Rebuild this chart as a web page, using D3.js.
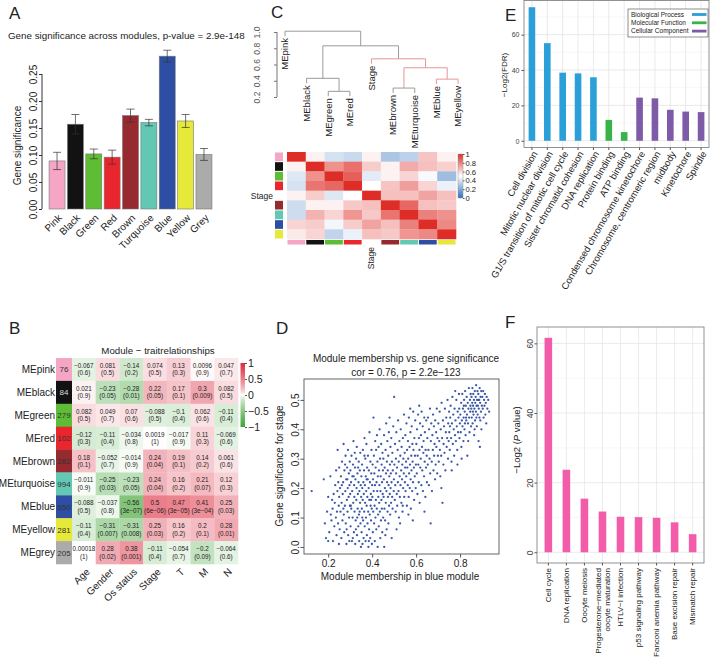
<!DOCTYPE html>
<html lang="en">
<head>
<meta charset="UTF-8">
<title>Module analysis</title>
<script src="https://d3js.org/d3.v7.min.js"></script>
<style>
  body { margin: 0; background: #fff; }
  svg { display: block; }
  svg text { font-family: "Liberation Sans", Arial, sans-serif; fill: #222; }
</style>
</head>
<body>
<svg id="fig" width="710" height="659"></svg>
<script>
// ---------- data ----------
// A: gene significance per module
const moduleNames = ["Pink", "Black", "Green", "Red", "Brown", "Turquoise", "Blue", "Yellow", "Grey"];
const moduleColors = ["#f4a6c4", "#121212", "#5ebd35", "#e9262e", "#972a2f", "#62c8b3", "#2d4ea2", "#e6e83a", "#ababab"];
const geneSig = [0.089, 0.157, 0.102, 0.096, 0.173, 0.160, 0.283, 0.163, 0.101];
const geneSigErr = [0.016, 0.018, 0.009, 0.013, 0.012, 0.006, 0.011, 0.012, 0.011];

// B: module-trait relationships
const meRows = ["MEpink", "MEblack", "MEgreen", "MEred", "MEbrown", "MEturquoise", "MEblue", "MEyellow", "MEgrey"];
const moduleSizes = [76, 84, 279, 102, 282, 994, 650, 281, 205];
const traits = ["Age", "Gender", "Os status", "Stage", "T", "M", "N"];
const traitCor = [
  [-0.067, 0.081, -0.14, 0.074, 0.13, 0.0096, 0.047],
  [0.021, -0.23, -0.28, 0.22, 0.17, 0.3, 0.082],
  [0.082, 0.049, 0.07, -0.088, -0.1, 0.062, -0.11],
  [-0.12, -0.11, -0.034, 0.0019, -0.017, 0.11, -0.069],
  [0.18, -0.052, -0.014, 0.24, 0.19, 0.14, 0.061],
  [-0.011, -0.25, -0.23, 0.24, 0.16, 0.21, 0.12],
  [-0.088, -0.037, -0.56, 0.5, 0.47, 0.41, 0.25],
  [-0.11, -0.31, -0.31, 0.25, 0.16, 0.2, 0.28],
  [0.00018, 0.28, 0.38, -0.11, -0.054, -0.2, -0.064]
];
const traitP = [
  ["0.6", "0.5", "0.2", "0.5", "0.3", "0.9", "0.7"],
  ["0.9", "0.05", "0.01", "0.05", "0.1", "0.009", "0.5"],
  ["0.5", "0.7", "0.6", "0.5", "0.4", "0.6", "0.4"],
  ["0.3", "0.4", "0.8", "1", "0.9", "0.3", "0.6"],
  ["0.1", "0.7", "0.9", "0.04", "0.1", "0.2", "0.6"],
  ["0.9", "0.03", "0.05", "0.04", "0.2", "0.07", "0.3"],
  ["0.5", "0.8", "3e−07", "6e−06", "3e−05", "3e−04", "0.03"],
  ["0.4", "0.007", "0.008", "0.03", "0.2", "0.1", "0.01"],
  ["1", "0.02", "0.001", "0.4", "0.7", "0.09", "0.6"]
];
const corLegendTicks = [1, 0.5, 0, -0.5, -1];

// C: eigengene dendrogram and adjacency heatmap
const eigenOrder = ["MEpink", "MEblack", "MEgreen", "MEred", "Stage", "MEbrown", "MEturquoise", "MEblue", "MEyellow"];
const eigenColors = ["#f4a6c4", "#121212", "#5ebd35", "#e9262e", null, "#972a2f", "#62c8b3", "#2d4ea2", "#e6e83a"];
const eigenAdj = [
  [1.00, 0.53, 0.40, 0.37, 0.53, 0.30, 0.34, 0.64, 0.53],
  [0.53, 1.00, 0.76, 0.84, 0.62, 0.53, 0.70, 0.65, 0.61],
  [0.42, 0.76, 1.00, 0.88, 0.43, 0.53, 0.60, 0.48, 0.27],
  [0.40, 0.83, 0.86, 1.00, 0.50, 0.64, 0.73, 0.60, 0.45],
  [0.53, 0.62, 0.42, 0.50, 1.00, 0.65, 0.65, 0.72, 0.65],
  [0.38, 0.53, 0.53, 0.63, 0.65, 1.00, 0.86, 0.65, 0.63],
  [0.38, 0.68, 0.60, 0.75, 0.63, 0.83, 1.00, 0.80, 0.76],
  [0.60, 0.62, 0.47, 0.62, 0.72, 0.65, 0.80, 1.00, 0.78],
  [0.55, 0.60, 0.35, 0.45, 0.65, 0.63, 0.75, 0.78, 1.00]
];
const dendroTree = {h: 1.01, children: [
  {leaf: "MEpink"},
  {h: 0.83, children: [
    {h: 0.43, children: [{leaf: "MEblack"}, {h: 0.27, children: [{leaf: "MEgreen"}, {leaf: "MEred"}]}]},
    {h: 0.67, red: true, children: [
      {leaf: "Stage"},
      {h: 0.56, red: true, children: [
        {h: 0.31, children: [{leaf: "MEbrown"}, {leaf: "MEturquoise"}]},
        {h: 0.42, red: true, children: [{leaf: "MEblue"}, {leaf: "MEyellow"}]}
      ]}
    ]}
  ]}
]};
const dendroTicks = [0.2, 0.4, 0.6, 0.8, 1.0];
const adjLegendTicks = [0, 0.2, 0.4, 0.6, 0.8, 1];

// D: module membership vs gene significance (blue module)
const mmGs = [
  [0.125,0.19],[0.18,0.23],[0.185,0.08],[0.19,0.03],[0.20,0.02],[0.195,0.12],[0.20,0.17],[0.205,0.05],
  [0.21,0.24],[0.212,0.11],[0.215,0.09],[0.22,0.13],[0.222,0.02],[0.225,0.18],[0.228,0.07],[0.23,0.15],[0.232,0.21],[0.235,0.10],[0.236,0.26],[0.238,0.04],[0.24,0.12],[0.242,0.19],[0.243,0.33],[0.245,0.08],[0.246,0.22],[0.248,0.14],[0.249,0.01],[0.25,0.17],[0.25,0.27],[0.218,0.16],
  [0.252,0.06],[0.254,0.20],[0.256,0.12],[0.258,0.24],[0.26,0.03],[0.261,0.15],[0.263,0.29],[0.265,0.09],[0.266,0.18],[0.268,0.22],[0.27,0.35],[0.271,0.11],[0.273,0.05],[0.274,0.26],[0.276,0.14],[0.278,0.19],[0.279,0.31],[0.28,0.08],[0.282,0.23],[0.283,0.01],[0.285,0.16],[0.286,0.27],[0.288,0.12],[0.289,0.20],[0.29,0.33],[0.291,0.04],[0.293,0.17],[0.294,0.25],[0.295,0.10],[0.297,0.21],[0.298,0.29],[0.299,0.14],[0.262,0.21],[0.277,0.28],[0.284,0.06],[0.296,0.02],[0.287,0.23],[0.269,0.13],
  [0.30,0.18],[0.301,0.26],[0.302,0.07],[0.304,0.22],[0.305,0.13],[0.306,0.31],[0.308,0.02],[0.309,0.19],[0.31,0.24],[0.311,0.10],[0.313,0.28],[0.314,0.15],[0.315,0.36],[0.317,0.05],[0.318,0.21],[0.319,0.17],[0.32,0.12],[0.322,0.27],[0.323,0.01],[0.324,0.23],[0.325,0.09],[0.327,0.30],[0.328,0.16],[0.329,0.20],[0.33,0.34],[0.331,0.04],[0.333,0.25],[0.334,0.13],[0.335,0.18],[0.337,0.07],[0.338,0.22],[0.339,0.29],[0.34,0.11],[0.341,0.02],[0.342,0.19],[0.344,0.26],[0.345,0.15],[0.346,0.32],[0.347,0.08],[0.348,0.21],[0.349,0.00],[0.35,0.17],[0.303,0.14],[0.312,0.03],[0.321,0.32],[0.326,0.06],[0.336,0.27],[0.343,0.12],[0.316,0.24],[0.332,0.10],
  [0.351,0.24],[0.352,0.05],[0.353,0.13],[0.354,0.28],[0.355,0.20],[0.356,0.01],[0.357,0.16],[0.358,0.33],[0.359,0.09],[0.36,0.22],[0.361,0.03],[0.362,0.18],[0.363,0.26],[0.364,0.12],[0.365,0.37],[0.366,0.07],[0.367,0.21],[0.368,0.15],[0.369,0.30],[0.37,0.02],[0.371,0.24],[0.372,0.10],[0.373,0.19],[0.374,0.35],[0.375,0.14],[0.376,0.04],[0.377,0.27],[0.378,0.17],[0.379,0.08],[0.38,0.23],[0.381,0.31],[0.382,0.12],[0.383,0.00],[0.384,0.20],[0.385,0.26],[0.386,0.06],[0.387,0.16],[0.388,0.39],[0.389,0.11],[0.39,0.22],[0.391,0.03],[0.392,0.29],[0.393,0.14],[0.394,0.18],[0.395,0.09],[0.396,0.25],[0.397,0.33],[0.398,0.13],[0.399,0.01],[0.40,0.21],[0.355,0.10],[0.365,0.31],[0.375,0.23],[0.385,0.02],[0.395,0.16],
  [0.401,0.17],[0.402,0.28],[0.403,0.05],[0.404,0.23],[0.405,0.12],[0.406,0.44],[0.407,0.19],[0.408,0.31],[0.409,0.08],[0.41,0.25],[0.411,0.14],[0.412,0.02],[0.413,0.21],[0.414,0.36],[0.415,0.10],[0.416,0.27],[0.417,0.16],[0.418,0.33],[0.419,0.06],[0.42,0.22],[0.421,0.13],[0.422,0.38],[0.423,0.19],[0.424,0.29],[0.425,0.00],[0.426,0.24],[0.427,0.11],[0.428,0.17],[0.429,0.34],[0.43,0.07],[0.431,0.26],[0.432,0.15],[0.433,0.21],[0.434,0.40],[0.435,0.12],[0.436,0.30],[0.437,0.03],[0.438,0.19],[0.439,0.24],[0.44,0.09],[0.441,0.35],[0.442,0.16],[0.443,0.28],[0.444,0.13],[0.445,0.22],[0.446,0.05],[0.447,0.32],[0.448,0.18],[0.449,0.26],[0.45,0.10],[0.455,0.00],[0.46,0.04],
  [0.451,0.30],[0.452,0.17],[0.453,0.23],[0.454,0.38],[0.456,0.13],[0.457,0.27],[0.458,0.20],[0.459,0.09],[0.461,0.33],[0.462,0.15],[0.463,0.25],[0.464,0.42],[0.465,0.19],[0.466,0.06],[0.467,0.29],[0.468,0.22],[0.469,0.36],[0.47,0.12],[0.471,0.26],[0.472,0.17],[0.473,0.31],[0.474,0.08],[0.475,0.21],[0.476,0.39],[0.477,0.14],[0.478,0.24],[0.479,0.44],[0.48,0.18],[0.481,0.28],[0.482,0.11],[0.483,0.34],[0.484,0.20],[0.485,0.25],[0.486,0.15],[0.487,0.37],[0.488,0.22],[0.489,0.03],[0.49,0.29],[0.491,0.17],[0.492,0.32],[0.493,0.13],[0.494,0.26],[0.496,0.41],[0.498,0.19],[0.499,0.23],
  [0.50,0.51],[0.501,0.28],[0.503,0.16],[0.504,0.35],[0.505,0.21],[0.507,0.12],[0.508,0.30],[0.509,0.25],[0.51,0.39],[0.512,0.18],[0.513,0.27],[0.514,0.14],[0.516,0.33],[0.517,0.22],[0.518,0.43],[0.52,0.19],[0.521,0.29],[0.522,0.10],[0.524,0.36],[0.525,0.24],[0.526,0.17],[0.528,0.31],[0.529,0.21],[0.53,0.40],[0.532,0.26],[0.533,0.15],[0.534,0.34],[0.536,0.23],[0.537,0.28],[0.538,0.12],[0.54,0.37],[0.541,0.20],[0.542,0.30],[0.544,0.25],[0.545,0.45],[0.546,0.17],[0.548,0.32],[0.549,0.22],[0.55,0.27],[0.527,0.08],[0.511,0.06],[0.539,0.14],
  [0.551,0.38],[0.552,0.19],[0.554,0.29],[0.555,0.24],[0.556,0.42],[0.558,0.14],[0.559,0.33],[0.56,0.27],[0.562,0.21],[0.563,0.36],[0.564,0.30],[0.566,0.17],[0.567,0.44],[0.568,0.25],[0.57,0.34],[0.571,0.20],[0.572,0.28],[0.574,0.39],[0.575,0.23],[0.576,0.13],[0.578,0.31],[0.579,0.26],[0.58,0.41],[0.582,0.19],[0.583,0.35],[0.584,0.29],[0.586,0.22],[0.587,0.46],[0.588,0.33],[0.59,0.27],[0.591,0.16],[0.592,0.37],[0.594,0.24],[0.595,0.31],[0.596,0.43],[0.598,0.20],[0.599,0.28],[0.565,0.11],[0.585,0.09],[0.573,0.47],
  [0.601,0.35],[0.603,0.25],[0.604,0.40],[0.606,0.18],[0.607,0.31],[0.609,0.45],[0.61,0.28],[0.612,0.22],[0.613,0.37],[0.615,0.33],[0.616,0.15],[0.618,0.42],[0.619,0.27],[0.621,0.30],[0.622,0.38],[0.624,0.21],[0.625,0.46],[0.627,0.34],[0.628,0.26],[0.63,0.41],[0.631,0.19],[0.633,0.32],[0.634,0.36],[0.636,0.24],[0.637,0.44],[0.639,0.29],[0.64,0.39],[0.642,0.17],[0.643,0.33],[0.645,0.27],[0.646,0.43],[0.648,0.31],[0.649,0.22],[0.614,0.48],[0.638,0.12],
  [0.651,0.37],[0.653,0.28],[0.654,0.44],[0.656,0.33],[0.658,0.21],[0.659,0.40],[0.661,0.30],[0.663,0.47],[0.664,0.25],[0.666,0.08],[0.667,0.36],[0.669,0.42],[0.671,0.29],[0.672,0.19],[0.674,0.38],[0.676,0.33],[0.677,0.45],[0.679,0.26],[0.681,0.41],[0.682,0.31],[0.684,0.35],[0.686,0.23],[0.687,0.43],[0.689,0.28],[0.691,0.39],[0.692,0.34],[0.694,0.47],[0.696,0.25],[0.697,0.37],[0.699,0.31],
  [0.701,0.42],[0.703,0.29],[0.705,0.36],[0.707,0.46],[0.708,0.33],[0.71,0.24],[0.712,0.40],[0.714,0.31],[0.716,0.49],[0.718,0.37],[0.72,0.15],[0.722,0.43],[0.724,0.28],[0.725,0.35],[0.727,0.41],[0.729,0.32],[0.731,0.47],[0.733,0.26],[0.735,0.39],[0.737,0.44],[0.739,0.34],[0.741,0.37],[0.743,0.50],[0.745,0.30],[0.746,0.42],[0.748,0.36],[0.75,0.46],[0.715,0.20],
  [0.751,0.39],[0.753,0.33],[0.755,0.44],[0.757,0.48],[0.759,0.37],[0.761,0.29],[0.763,0.42],[0.765,0.51],[0.767,0.35],[0.769,0.45],[0.771,0.40],[0.773,0.31],[0.775,0.47],[0.777,0.38],[0.779,0.43],[0.781,0.36],[0.783,0.50],[0.785,0.41],[0.787,0.33],[0.789,0.46],[0.791,0.39],[0.793,0.44],[0.795,0.52],[0.797,0.37],[0.799,0.42],[0.762,0.26],[0.778,0.53],[0.788,0.28],[0.754,0.41],[0.796,0.47],
  [0.801,0.45],[0.803,0.39],[0.805,0.49],[0.806,0.34],[0.808,0.43],[0.81,0.52],[0.811,0.41],[0.813,0.47],[0.815,0.36],[0.816,0.44],[0.818,0.50],[0.82,0.40],[0.821,0.46],[0.823,0.53],[0.825,0.38],[0.826,0.48],[0.828,0.43],[0.83,0.51],[0.831,0.45],[0.833,0.31],[0.835,0.49],[0.836,0.42],[0.838,0.47],[0.84,0.54],[0.841,0.44],[0.843,0.39],[0.845,0.50],[0.846,0.46],[0.848,0.52],[0.85,0.41],[0.807,0.30],[0.817,0.48],[0.827,0.44],[0.837,0.36],[0.847,0.48],[0.822,0.42],
  [0.851,0.47],[0.852,0.51],[0.853,0.44],[0.855,0.49],[0.856,0.54],[0.857,0.42],[0.859,0.48],[0.86,0.52],[0.861,0.45],[0.863,0.50],[0.864,0.38],[0.865,0.47],[0.867,0.53],[0.868,0.43],[0.869,0.49],[0.871,0.51],[0.872,0.46],[0.873,0.55],[0.875,0.48],[0.876,0.41],[0.877,0.50],[0.879,0.53],[0.88,0.45],[0.881,0.48],[0.883,0.52],[0.884,0.36],[0.885,0.47],[0.887,0.50],[0.888,0.44],[0.889,0.54],[0.891,0.49],[0.892,0.43],[0.893,0.51],[0.895,0.46],[0.896,0.53],[0.897,0.40],[0.899,0.48],[0.858,0.46],[0.866,0.40],[0.874,0.44],[0.882,0.50],[0.89,0.34],
  [0.901,0.51],[0.903,0.47],[0.905,0.53],[0.907,0.44],[0.909,0.50],[0.911,0.48],[0.913,0.52],[0.915,0.45],[0.917,0.49],[0.919,0.42],[0.921,0.51],[0.924,0.47],[0.928,0.50],[0.932,0.46]
];
const mmTicks = [0.2, 0.4, 0.6, 0.8];
const gsTicks = [0.0, 0.1, 0.2, 0.3, 0.4, 0.5];

// E: GO enrichment
const goTerms = ["Cell division", "Mitotic nuclear division", "G1/S transition of mitotic cell cycle",
  "Sister chromatid cohesion", "DNA replication", "Protein binding", "ATP binding",
  "Condensed chromosome kinetochore", "Chromosome, centromeric region", "midbody", "Kinetochore", "Spindle"];
const goValues = [75.5, 55.2, 38.5, 38.1, 35.9, 11.8, 4.9, 24.4, 24.0, 17.5, 16.5, 16.2];
const goCategory = ["BP", "BP", "BP", "BP", "BP", "MF", "MF", "CC", "CC", "CC", "CC", "CC"];
const goCatNames = ["Biological Process", "Molecular Function", "Cellular Component"];
const goCatColors = {BP: "#2b9fd8", MF: "#37b34a", CC: "#7d5ba6"};

// F: KEGG pathways
const keggTerms = ["Cell cycle", "DNA replication", "Oocyte meiosis", "Progesterone−mediated\noocyte maturation",
  "HTLV−I infection", "p53 signaling pathway", "Fanconi anemia pathway", "Base excision repair", "Mismatch repair"];
const keggValues = [61.6, 23.7, 15.4, 11.7, 10.2, 10.1, 9.9, 8.6, 5.2];

// ---------- drawing ----------
const svg = d3.select("#fig");
svg.append("rect").attr("width", 710).attr("height", 659).attr("fill", "#fff");

function letter(t, x, y) {
  svg.append("text").attr("x", x).attr("y", y).attr("font-size", 17).text(t);
}
const minus = s => String(s).replace("-", "−");

// rotated (R style) tick labels on a left axis
function rotateLeftLabels(g, off) {
  g.selectAll(".tick text")
    .attr("x", 0).attr("y", -off).attr("dy", 0)
    .attr("text-anchor", "middle")
    .attr("transform", "rotate(-90)");
}

// ===== Panel A =====
letter("A", 9, 19);
svg.append("text").attr("x", 8).attr("y", 39).attr("font-size", 9.8)
  .text("Gene significance across modules, p-value = 2.9e-148");

const xA = d3.scaleBand().domain(moduleNames).range([48.5, 212.5]).paddingInner(0.13).paddingOuter(0.03);
const yA = d3.scaleLinear().domain([0, 0.25]).range([209, 74]);
const gA = svg.append("g");

gA.selectAll("rect.bar").data(moduleNames).join("rect")
  .attr("class", "bar")
  .attr("x", d => xA(d)).attr("width", xA.bandwidth())
  .attr("y", (d, i) => yA(geneSig[i]))
  .attr("height", (d, i) => yA(0) - yA(geneSig[i]))
  .attr("fill", (d, i) => moduleColors[i])
  .attr("stroke", "#777").attr("stroke-width", 0.6);

// error bars
moduleNames.forEach((d, i) => {
  const cx = xA(d) + xA.bandwidth() / 2;
  const lo = yA(geneSig[i] - geneSigErr[i]), hi = yA(geneSig[i] + geneSigErr[i]);
  const eb = gA.append("g").attr("stroke", "#333").attr("stroke-width", 0.7);
  eb.append("line").attr("x1", cx).attr("x2", cx).attr("y1", lo).attr("y2", hi);
  eb.append("line").attr("x1", cx - 4).attr("x2", cx + 4).attr("y1", lo).attr("y2", lo);
  eb.append("line").attr("x1", cx - 4).attr("x2", cx + 4).attr("y1", hi).attr("y2", hi);
});

const axA = gA.append("g").attr("transform", "translate(42,0)")
  .call(d3.axisLeft(yA).tickValues([0, 0.05, 0.1, 0.15, 0.2, 0.25]).tickFormat(d3.format(".2f")).tickSize(3));
axA.select(".domain").remove();
axA.attr("font-size", 10);
axA.selectAll(".tick line").attr("stroke", "#333");
rotateLeftLabels(axA, 5);
axA.append("line").attr("y1", yA(0)).attr("y2", yA(0.25)).attr("stroke", "#333");

gA.append("text").attr("transform", `translate(21,${(yA(0) + yA(0.25)) / 2 + 4}) rotate(-90)`)
  .attr("text-anchor", "middle").attr("font-size", 10).text("Gene significance");

gA.selectAll("text.xl").data(moduleNames).join("text")
  .attr("class", "xl").attr("font-size", 10).attr("text-anchor", "end")
  .attr("transform", d => `translate(${xA(d) + xA.bandwidth() / 2 + 3},${216}) rotate(-45)`)
  .attr("dy", "0.35em").text(d => d);

// ===== Panel B =====
letter("B", 9, 334);
const xB = d3.scaleBand().domain(traits).range([72, 238]);
const yB = d3.scaleBand().domain(meRows).range([358, 564]);
const corBase = d3.scaleLinear().domain([-1, 0, 1]).range(["#3fa535", "#ffffff", "#dc2b3e"]);
const corColor = v => corBase(Math.sign(v) * Math.pow(Math.abs(v), 0.72));
const gB = svg.append("g");

gB.append("text").attr("x", 158).attr("y", 354).attr("text-anchor", "middle").attr("font-size", 9.7)
  .text("Module − traitrelationships");

const cellsB = [];
traitCor.forEach((row, i) => row.forEach((v, j) => cellsB.push({r: meRows[i], c: traits[j], v: v, p: traitP[i][j]})));

gB.selectAll("rect.cell").data(cellsB).join("rect")
  .attr("class", "cell")
  .attr("x", d => xB(d.c)).attr("y", d => yB(d.r))
  .attr("width", xB.bandwidth() + 0.3).attr("height", yB.bandwidth() + 0.3)
  .attr("fill", d => corColor(d.v));

gB.selectAll("text.cv").data(cellsB).join("text")
  .attr("class", "cv").attr("font-size", 6.3).attr("text-anchor", "middle").attr("fill", "#333")
  .attr("x", d => xB(d.c) + xB.bandwidth() / 2)
  .attr("y", d => yB(d.r) + yB.bandwidth() / 2 - 1.5)
  .text(d => minus(d.v));
gB.selectAll("text.cp").data(cellsB).join("text")
  .attr("class", "cp").attr("font-size", 6.3).attr("text-anchor", "middle").attr("fill", "#333")
  .attr("x", d => xB(d.c) + xB.bandwidth() / 2)
  .attr("y", d => yB(d.r) + yB.bandwidth() / 2 + 6)
  .text(d => "(" + d.p + ")");

// module colour column
gB.selectAll("rect.mc").data(meRows).join("rect")
  .attr("class", "mc")
  .attr("x", 56).attr("width", 16)
  .attr("y", d => yB(d)).attr("height", yB.bandwidth() + 0.3)
  .attr("fill", (d, i) => moduleColors[i]);
gB.selectAll("text.ms").data(meRows).join("text")
  .attr("class", "ms").attr("font-size", 8).attr("text-anchor", "middle")
  .attr("x", 64).attr("y", d => yB(d) + yB.bandwidth() / 2 + 3)
  .style("fill", (d, i) => i === 1 ? "#ddd" : "#333")
  .text((d, i) => moduleSizes[i]);
gB.selectAll("text.rl").data(meRows).join("text")
  .attr("class", "rl").attr("font-size", 10).attr("text-anchor", "end")
  .attr("x", 55).attr("y", d => yB(d) + yB.bandwidth() / 2 + 3.5)
  .text(d => d);
gB.selectAll("text.tl").data(traits).join("text")
  .attr("class", "tl").attr("font-size", 10).attr("text-anchor", "end")
  .attr("transform", d => `translate(${xB(d) + xB.bandwidth() / 2 + 4},570) rotate(-45)`)
  .attr("dy", "0.35em").text(d => d);

// colour legend
const defs = svg.append("defs");
const gradB = defs.append("linearGradient").attr("id", "gradB").attr("x1", 0).attr("x2", 0).attr("y1", 0).attr("y2", 1);
d3.range(0, 1.0001, 0.05).forEach(t => gradB.append("stop").attr("offset", t).attr("stop-color", corColor(1 - 2 * t)));
const yBL = d3.scaleLinear().domain([1, -1]).range([363, 427]);
gB.append("rect").attr("x", 240.5).attr("y", 363).attr("width", 4.5).attr("height", 64).attr("fill", "url(#gradB)");
const axBL = gB.append("g").attr("transform", "translate(245,0)")
  .call(d3.axisRight(yBL).tickValues(corLegendTicks).tickSize(2).tickFormat(d => minus(d)));
axBL.select(".domain").remove();
axBL.attr("font-size", 10.5);
axBL.selectAll(".tick line").attr("stroke", "#555");
axBL.selectAll(".tick text").attr("x", 3);

// ===== Panel C =====
letter("C", 271, 18);
const gC = svg.append("g");
const xLeaf = d3.scalePoint().domain(eigenOrder).range([285, 458]);
const yDen = d3.scaleLinear().domain([0.2, 1.0]).range([97, 32]);
const hang = 0.06;
const grayLine = "#9a9a9a", redLine = "#e89494";

function layoutNode(n) {
  if (n.leaf) { n.x = xLeaf(n.leaf); return n.x; }
  n.children.forEach(layoutNode);
  n.x = (n.children[0].x + n.children[1].x) / 2;
  return n.x;
}
layoutNode(dendroTree);
function drawNode(n) {
  if (n.leaf) return;
  const col = n.red ? redLine : grayLine;
  const y = yDen(n.h);
  gC.append("line").attr("x1", n.children[0].x).attr("x2", n.children[1].x)
    .attr("y1", y).attr("y2", y).attr("stroke", col);
  n.children.forEach(ch => {
    const yEnd = ch.leaf ? yDen(n.h - hang) : yDen(ch.h);
    gC.append("line").attr("x1", ch.x).attr("x2", ch.x).attr("y1", y).attr("y2", yEnd).attr("stroke", col);
    if (ch.leaf) {
      gC.append("text").attr("font-size", 9.5).attr("text-anchor", "end")
        .attr("transform", `translate(${ch.x},${yEnd + 2}) rotate(-90)`)
        .attr("dy", "0.35em").text(ch.leaf);
    }
    drawNode(ch);
  });
}
drawNode(dendroTree);

const axDen = gC.append("g").attr("transform", "translate(277,0)")
  .call(d3.axisLeft(yDen).tickValues(dendroTicks).tickFormat(d3.format(".1f")).tickSize(3));
axDen.attr("font-size", 8.5);
axDen.select(".domain").attr("stroke", "#777").attr("d", `M0,${yDen(0.2)}V${yDen(1.0)}`);
axDen.selectAll(".tick line").attr("stroke", "#777");
rotateLeftLabels(axDen, 17);
axDen.selectAll(".tick text").style("fill", "#555");

// adjacency heatmap
const xC = d3.scaleBand().domain(eigenOrder).range([287, 456]);
const yC = d3.scaleBand().domain(eigenOrder).range([152, 239]);
const adjColor = d3.scaleLinear().domain([0, 0.5, 1]).range(["#2f6fbe", "#ffffff", "#de2d26"]);
const cellsC = [];
eigenAdj.forEach((row, i) => row.forEach((v, j) => cellsC.push({r: eigenOrder[i], c: eigenOrder[j], v: v})));
gC.selectAll("rect.adj").data(cellsC).join("rect")
  .attr("class", "adj")
  .attr("x", d => xC(d.c)).attr("y", d => yC(d.r))
  .attr("width", xC.bandwidth() + 0.3).attr("height", yC.bandwidth() + 0.3)
  .attr("fill", d => adjColor(d.v));
gC.selectAll("rect.rc").data(eigenOrder.filter((d, i) => eigenColors[i])).join("rect")
  .attr("class", "rc")
  .attr("x", 275).attr("width", 8)
  .attr("y", d => yC(d) + 0.5).attr("height", yC.bandwidth() - 1)
  .attr("fill", d => eigenColors[eigenOrder.indexOf(d)]);
gC.selectAll("rect.cc").data(eigenOrder.filter((d, i) => eigenColors[i])).join("rect")
  .attr("class", "cc")
  .attr("y", 240).attr("height", 4.5)
  .attr("x", d => xC(d) + 0.5).attr("width", xC.bandwidth() - 1)
  .attr("fill", d => eigenColors[eigenOrder.indexOf(d)]);
gC.append("text").attr("x", 273).attr("y", yC("Stage") + yC.bandwidth() / 2 + 3)
  .attr("text-anchor", "end").attr("font-size", 8.5).text("Stage");
gC.append("text").attr("font-size", 8.5).attr("text-anchor", "end")
  .attr("transform", `translate(${xC("Stage") + xC.bandwidth() / 2},247) rotate(-90)`)
  .attr("dy", "0.35em").text("Stage");

const gradC = defs.append("linearGradient").attr("id", "gradC").attr("x1", 0).attr("x2", 0).attr("y1", 0).attr("y2", 1);
d3.range(0, 1.0001, 0.05).forEach(t => gradC.append("stop").attr("offset", t).attr("stop-color", adjColor(1 - t)));
const yCL = d3.scaleLinear().domain([1, 0]).range([154, 198]);
gC.append("rect").attr("x", 458).attr("y", 154).attr("width", 5).attr("height", 44)
  .attr("fill", "url(#gradC)").attr("stroke", "#999").attr("stroke-width", 0.5);
const axCL = gC.append("g").attr("transform", "translate(463,0)")
  .call(d3.axisRight(yCL).tickValues(adjLegendTicks).tickSize(1.5).tickFormat(d => d));
axCL.select(".domain").remove();
axCL.attr("font-size", 7.6);
axCL.selectAll(".tick line").attr("stroke", "#555");
axCL.selectAll(".tick text").attr("x", 2.5);

// ===== Panel D =====
letter("D", 276, 334);
const gD = svg.append("g");
const xD = d3.scaleLinear().domain([0.09, 0.977]).range([304, 499]);
const yD = d3.scaleLinear().domain([-0.024, 0.571]).range([554, 379]);
gD.append("text").attr("x", 406).attr("y", 362).attr("text-anchor", "middle").attr("font-size", 10)
  .text("Module membership vs. gene significance");
gD.append("text").attr("x", 406).attr("y", 376).attr("text-anchor", "middle").attr("font-size", 10)
  .text("cor = 0.76, p = 2.2e−123");

gD.selectAll("circle").data(mmGs).join("circle")
  .attr("cx", d => xD(d[0])).attr("cy", d => yD(d[1])).attr("r", 1.15)
  .attr("fill", "#3b58a8");
gD.append("rect").attr("x", 304).attr("y", 379).attr("width", 195).attr("height", 175)
  .attr("fill", "none").attr("stroke", "#555").attr("stroke-width", 0.9);

const axDx = gD.append("g").attr("transform", "translate(0,554)")
  .call(d3.axisBottom(xD).tickValues(mmTicks).tickFormat(d3.format(".1f")).tickSize(3.5));
axDx.select(".domain").remove();
axDx.attr("font-size", 10);
axDx.selectAll(".tick line").attr("stroke", "#555");
axDx.selectAll(".tick text").attr("y", 5).attr("dy", "0.75em");
const axDy = gD.append("g").attr("transform", "translate(304,0)")
  .call(d3.axisLeft(yD).tickValues(gsTicks).tickFormat(d3.format(".1f")).tickSize(3.5));
axDy.select(".domain").remove();
axDy.attr("font-size", 10);
axDy.selectAll(".tick line").attr("stroke", "#555");
rotateLeftLabels(axDy, 5);
gD.append("text").attr("x", 400).attr("y", 580).attr("text-anchor", "middle").attr("font-size", 10)
  .text("Module membership in blue module");
gD.append("text").attr("transform", "translate(283,466) rotate(-90)").attr("text-anchor", "middle")
  .attr("font-size", 10).text("Gene significance for stage");

// ===== Panel E =====
letter("E", 505, 21);
const gE = svg.append("g");
const xE = d3.scaleBand().domain(goTerms).range([524, 709]).paddingInner(0.57).paddingOuter(0.3);
const yE = d3.scaleLinear().domain([-3.8, 79.3]).range([147.5, 0.5]);
const frameE = {x0: 524, x1: 709, y0: 0.5, y1: 147.5};
[10, 30, 50, 70].forEach(v => gE.append("line").attr("x1", frameE.x0).attr("x2", frameE.x1)
  .attr("y1", yE(v)).attr("y2", yE(v)).attr("stroke", "#f3f3f3").attr("stroke-width", 0.6));
[0, 20, 40, 60].forEach(v => gE.append("line").attr("x1", frameE.x0).attr("x2", frameE.x1)
  .attr("y1", yE(v)).attr("y2", yE(v)).attr("stroke", "#e4e4e4").attr("stroke-width", 0.8));
goTerms.forEach(t => gE.append("line").attr("x1", xE(t) + xE.bandwidth() / 2).attr("x2", xE(t) + xE.bandwidth() / 2)
  .attr("y1", frameE.y0).attr("y2", frameE.y1).attr("stroke", "#e4e4e4").attr("stroke-width", 0.8));
gE.selectAll("rect.go").data(goTerms).join("rect")
  .attr("class", "go")
  .attr("x", d => xE(d)).attr("width", xE.bandwidth())
  .attr("y", (d, i) => yE(goValues[i])).attr("height", (d, i) => yE(0) - yE(goValues[i]))
  .attr("fill", (d, i) => goCatColors[goCategory[i]]);
gE.append("rect").attr("x", frameE.x0).attr("y", frameE.y0).attr("width", frameE.x1 - frameE.x0)
  .attr("height", frameE.y1 - frameE.y0).attr("fill", "none").attr("stroke", "#777").attr("stroke-width", 0.8);
const axEy = gE.append("g").attr("transform", `translate(${frameE.x0},0)`)
  .call(d3.axisLeft(yE).tickValues([0, 20, 40, 60]).tickSize(2.5).tickPadding(2));
axEy.select(".domain").remove();
axEy.attr("font-size", 7);
axEy.selectAll(".tick line").attr("stroke", "#555");
axEy.selectAll(".tick text").style("fill", "#444");
goTerms.forEach(t => gE.append("line").attr("x1", xE(t) + xE.bandwidth() / 2).attr("x2", xE(t) + xE.bandwidth() / 2)
  .attr("y1", frameE.y1).attr("y2", frameE.y1 + 2.5).attr("stroke", "#555"));
gE.selectAll("text.gol").data(goTerms).join("text")
  .attr("class", "gol").attr("font-size", 9.5).attr("text-anchor", "end")
  .attr("transform", d => `translate(${xE(d) + xE.bandwidth() / 2 + 3},152) rotate(-60)`)
  .attr("dy", "0.35em").text(d => d);
gE.append("text").attr("transform", "translate(507,75) rotate(-90)").attr("text-anchor", "middle")
  .attr("font-size", 8).text("−Log2(FDR)");

const legE = gE.append("g");
legE.append("rect").attr("x", 628).attr("y", 9).attr("width", 80).attr("height", 28)
  .attr("fill", "#fff").attr("stroke", "#444").attr("stroke-width", 0.6);
goCatNames.forEach((n, i) => {
  const cy = 14.5 + i * 8.3;
  legE.append("text").attr("x", 631).attr("y", cy + 2.3).attr("font-size", 6.5).text(n);
  legE.append("rect").attr("x", 692).attr("y", cy - 1.4).attr("width", 14.5).attr("height", 2.8)
    .attr("fill", goCatColors[["BP", "MF", "CC"][i]]);
});

// ===== Panel F =====
letter("F", 505, 328);
const gF = svg.append("g");
const xF = d3.scaleBand().domain(keggTerms).range([537, 704]).paddingInner(0.58).paddingOuter(0.42);
const yF = d3.scaleLinear().domain([-3.08, 64.7]).range([563, 327]);
const frameF = {x0: 537, x1: 704, y0: 327, y1: 563};
[10, 30, 50].forEach(v => gF.append("line").attr("x1", frameF.x0).attr("x2", frameF.x1)
  .attr("y1", yF(v)).attr("y2", yF(v)).attr("stroke", "#f3f3f3").attr("stroke-width", 0.6));
[0, 20, 40, 60].forEach(v => gF.append("line").attr("x1", frameF.x0).attr("x2", frameF.x1)
  .attr("y1", yF(v)).attr("y2", yF(v)).attr("stroke", "#e6e6e6").attr("stroke-width", 0.8));
keggTerms.forEach(t => gF.append("line").attr("x1", xF(t) + xF.bandwidth() / 2).attr("x2", xF(t) + xF.bandwidth() / 2)
  .attr("y1", frameF.y0).attr("y2", frameF.y1).attr("stroke", "#e6e6e6").attr("stroke-width", 0.8));
gF.selectAll("rect.kg").data(keggTerms).join("rect")
  .attr("class", "kg")
  .attr("x", d => xF(d)).attr("width", xF.bandwidth())
  .attr("y", (d, i) => yF(keggValues[i])).attr("height", (d, i) => yF(0) - yF(keggValues[i]))
  .attr("fill", "#f25ca8");
gF.append("rect").attr("x", frameF.x0).attr("y", frameF.y0).attr("width", frameF.x1 - frameF.x0)
  .attr("height", frameF.y1 - frameF.y0).attr("fill", "none").attr("stroke", "#777").attr("stroke-width", 0.8);
const axFy = gF.append("g").attr("transform", `translate(${frameF.x0},0)`)
  .call(d3.axisLeft(yF).tickValues([0, 20, 40, 60]).tickSize(2.5));
axFy.select(".domain").remove();
axFy.attr("font-size", 8.5);
axFy.selectAll(".tick line").attr("stroke", "#555");
rotateLeftLabels(axFy, 4);
axFy.selectAll(".tick text").style("fill", "#444");
keggTerms.forEach(t => gF.append("line").attr("x1", xF(t) + xF.bandwidth() / 2).attr("x2", xF(t) + xF.bandwidth() / 2)
  .attr("y1", frameF.y1).attr("y2", frameF.y1 + 2.5).attr("stroke", "#555"));
keggTerms.forEach(t => {
  const lines = t.split("\n");
  const tx = gF.append("text").attr("font-size", 8).attr("text-anchor", "end")
    .attr("transform", `translate(${xF(t) + xF.bandwidth() / 2},568) rotate(-90)`);
  lines.forEach((l, k) => tx.append("tspan").attr("x", 0)
    .attr("dy", lines.length === 1 ? "0.35em" : (k === 0 ? "-0.2em" : "1.15em")).text(l));
});
const yTitleF = gF.append("text").attr("transform", "translate(520,440) rotate(-90)")
  .attr("text-anchor", "middle").attr("font-size", 9.5);
yTitleF.append("tspan").text("−Log2 (");
yTitleF.append("tspan").attr("font-style", "italic").text("P");
yTitleF.append("tspan").text(" value)");
</script>
</body>
</html>
